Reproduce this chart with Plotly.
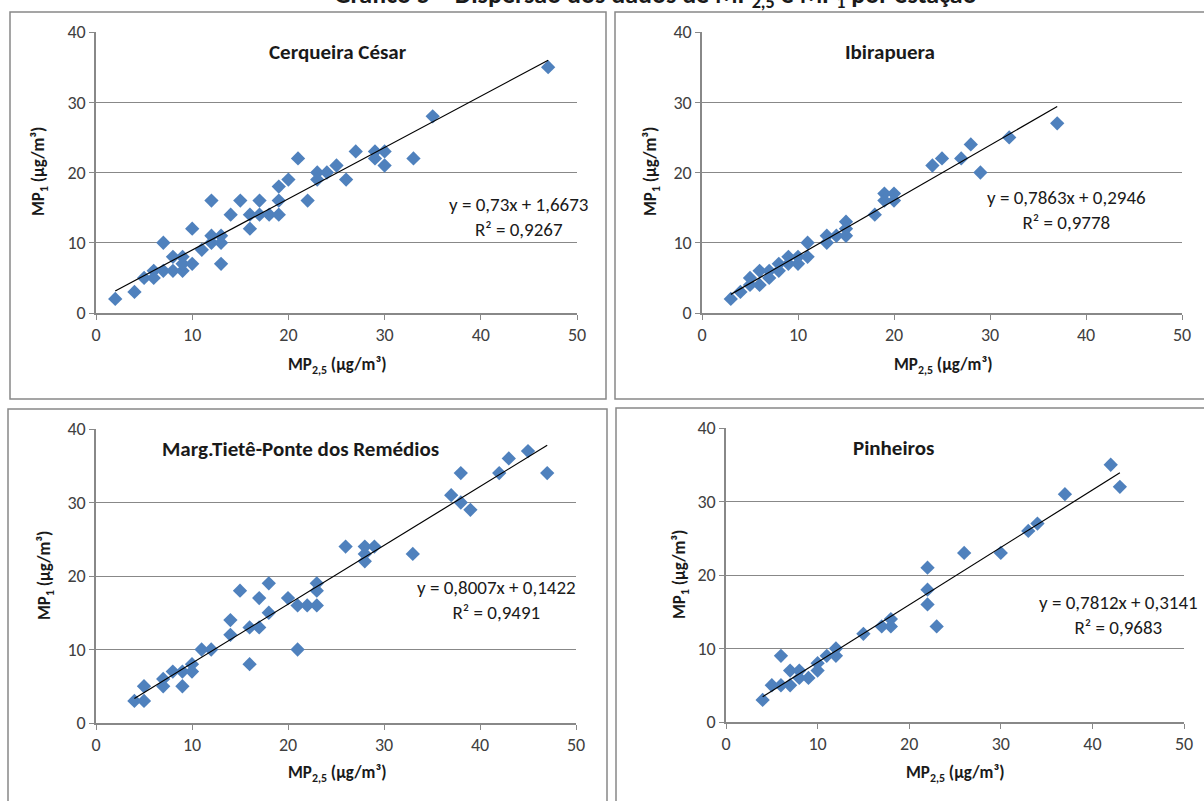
import plotly.graph_objects as go

W, H = 1204, 801

# ---------- data ----------
stations = ["Cerqueira César", "Ibirapuera", "Marg.Tietê-Ponte dos Remédios", "Pinheiros"]

cc_x = [2, 4, 5, 6, 6, 7, 7, 8, 8, 9, 9, 9, 10, 10, 11, 12, 12, 12, 13, 13, 13, 14, 15, 16, 16, 17, 17, 18,
        19, 19, 19, 20, 21, 22, 23, 23, 24, 25, 26, 27, 29, 29, 30, 30, 33, 35, 47]
cc_y = [2, 3, 5, 6, 5, 10, 6, 8, 6, 8, 6, 7, 12, 7, 9, 16, 11, 10, 11, 10, 7, 14, 16, 14, 12, 16, 14, 14,
        18, 16, 14, 19, 22, 16, 20, 19, 20, 21, 19, 23, 23, 22, 23, 21, 22, 28, 35]

ib_x = [3, 4, 5, 5, 6, 6, 7, 7, 8, 8, 9, 9, 10, 10, 11, 11, 13, 13, 14, 15, 15, 15, 18, 19, 19, 20, 20,
        24, 25, 27, 28, 29, 32, 37]
ib_y = [2, 3, 5, 4, 6, 4, 6, 5, 7, 6, 8, 7, 8, 7, 10, 8, 11, 10, 11, 13, 12, 11, 14, 17, 16, 17, 16,
        21, 22, 22, 24, 20, 25, 27]

mt_x = [4, 5, 5, 7, 7, 8, 9, 9, 10, 10, 11, 12, 14, 14, 15, 16, 16, 17, 17, 18, 18, 20, 21, 21, 22, 23, 23,
        23, 26, 28, 28, 28, 29, 33, 37, 38, 38, 39, 42, 43, 45, 47]
mt_y = [3, 5, 3, 6, 5, 7, 7, 5, 8, 7, 10, 10, 14, 12, 18, 13, 8, 17, 13, 19, 15, 17, 16, 10, 16, 19, 18,
        16, 24, 24, 23, 22, 24, 23, 31, 34, 30, 29, 34, 36, 37, 34]

pi_x = [4, 5, 6, 6, 7, 7, 8, 8, 9, 10, 10, 11, 12, 12, 15, 17, 18, 18, 22, 22, 22, 23, 26, 30, 33, 34,
        37, 42, 43]
pi_y = [3, 5, 9, 5, 7, 5, 7, 6, 6, 8, 7, 9, 10, 9, 12, 13, 14, 13, 21, 18, 16, 13, 23, 23, 26, 27,
        31, 35, 32]

xs = [cc_x, ib_x, mt_x, pi_x]
ys = [cc_y, ib_y, mt_y, pi_y]

slopes = [0.73, 0.7863, 0.8007, 0.7812]
intercepts = [1.6673, 0.2946, 0.1422, 0.3141]
eq_labels = ["y = 0,73x + 1,6673<br>R² = 0,9267",
             "y = 0,7863x + 0,2946<br>R² = 0,9778",
             "y = 0,8007x + 0,1422<br>R² = 0,9491",
             "y = 0,7812x + 0,3141<br>R² = 0,9683"]

x_ticks = [0, 10, 20, 30, 40, 50]
y_ticks = [0, 10, 20, 30, 40]

# ---------- layout helpers (pixel -> paper) ----------
def px(x):
    return x / W

def py(y):
    return 1 - y / H

# plot areas in pixels: (x0, x50, ytop(40), ybottom(0))
areas = [(96, 577, 32, 313), (702, 1182, 32, 313), (96, 576, 429, 723), (726, 1184, 428, 722)]
boxes = [(10, 12, 606, 399), (615, 12, 1208, 399), (8, 409, 607, 805), (616, 408, 1208, 805)]
title_pos = [(338, 52), (890, 52), (300, 449), (893, 448)]
eq_pos = [(518, 217), (1066, 210), (496, 600), (1118, 615)]
xt_pos = [(337, 365), (943, 365), (337, 773), (955, 773)]
yt_pos = [(40, 172), (652, 172), (45, 576), (680, 575)]

FONT = "Carlito, Calibri, Lato, sans-serif"
GRAY = "#888888"
MARK = "#4F81BD"
TXT = "#1a1a1a"

fig = go.Figure()
shapes = []
annotations = []

for i in range(4):
    ax = "" if i == 0 else str(i + 1)
    x0p, x50p, ytp, ybp = areas[i]
    fig.add_trace(go.Scatter(
        x=xs[i], y=ys[i], mode="markers",
        marker=dict(symbol="diamond", size=11, color=MARK, line=dict(width=0)),
        xaxis="x" + ax, yaxis="y" + ax, showlegend=False, cliponaxis=False))
    xa, xb = min(xs[i]), max(xs[i])
    fig.add_trace(go.Scatter(
        x=[xa, xb], y=[slopes[i] * xa + intercepts[i], slopes[i] * xb + intercepts[i]],
        mode="lines", line=dict(color="black", width=1.2),
        xaxis="x" + ax, yaxis="y" + ax, showlegend=False, cliponaxis=False))

    fig.update_layout(**{
        "xaxis" + ax: dict(domain=[px(x0p), px(x50p)], range=[0, 50], anchor="y" + ax,
                           tickvals=x_ticks, ticks="outside", ticklen=5, tickcolor=GRAY,
                           showline=True, linecolor=GRAY, linewidth=1.5, showgrid=False,
                           zeroline=False, automargin=False,
                           tickfont=dict(family=FONT, size=18, color="#404040")),
        "yaxis" + ax: dict(domain=[py(ybp), py(ytp)], range=[0, 40], anchor="x" + ax,
                           tickvals=y_ticks, ticks="outside", ticklen=5, tickcolor=GRAY,
                           showline=True, linecolor=GRAY, linewidth=1.5, showgrid=True,
                           gridcolor=GRAY, gridwidth=1.2, zeroline=False, automargin=False,
                           tickfont=dict(family=FONT, size=18, color="#404040")),
    })

    bx0, by0, bx1, by1 = boxes[i]
    shapes.append(dict(type="rect", xref="paper", yref="paper",
                       x0=px(bx0), x1=px(bx1), y0=py(by1), y1=py(by0),
                       line=dict(color=GRAY, width=1.5), fillcolor="rgba(0,0,0,0)", layer="below"))

    tx, ty = title_pos[i]
    annotations.append(dict(text="<b>" + stations[i] + "</b>", x=px(tx), y=py(ty), xref="paper",
                            yref="paper", showarrow=False, xanchor="center", yanchor="middle",
                            font=dict(family=FONT, size=21, color=TXT)))
    ex, ey = eq_pos[i]
    annotations.append(dict(text=eq_labels[i], x=px(ex), y=py(ey), xref="paper", yref="paper",
                            showarrow=False, xanchor="center", yanchor="middle", align="center",
                            font=dict(family=FONT, size=19, color=TXT)))
    xtx, xty = xt_pos[i]
    annotations.append(dict(text="<b>MP<sub>2,5</sub> (µg/m³)</b>", x=px(xtx), y=py(xty),
                            xref="paper", yref="paper", showarrow=False, xanchor="center",
                            yanchor="middle", font=dict(family=FONT, size=17, color=TXT)))
    ytx, yty = yt_pos[i]
    annotations.append(dict(text="<b>MP<sub>1</sub> (µg/m³)</b>", x=px(ytx), y=py(yty),
                            xref="paper", yref="paper", showarrow=False, xanchor="center",
                            yanchor="middle", textangle=-90,
                            font=dict(family=FONT, size=17, color=TXT)))

annotations.append(dict(text="<b>Gráfico 5 – Dispersão dos dados de MP<sub>2,5</sub> e MP<sub>1</sub> por estação</b>",
                        x=px(655), y=py(-4), xref="paper", yref="paper", showarrow=False,
                        xanchor="center", yanchor="middle",
                        font=dict(family=FONT, size=26, color=TXT)))

fig.update_layout(width=W, height=H, template="none",
                  margin=dict(l=0, r=0, t=0, b=0, pad=0, autoexpand=False),
                  paper_bgcolor="white", plot_bgcolor="white",
                  shapes=shapes, annotations=annotations)

fig.write_html("out.html", config={"displayModeBar": False},
               post_script="document.body.style.margin='0px';")
